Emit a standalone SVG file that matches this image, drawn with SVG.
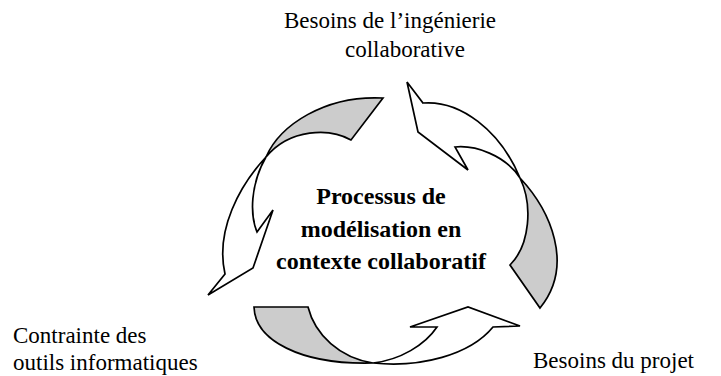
<svg xmlns="http://www.w3.org/2000/svg" width="721" height="376" viewBox="0 0 721 376">
<style>
.t{font-family:"Liberation Serif","Times New Roman",serif;font-size:23px;fill:#000}
.b{font-family:"Liberation Serif","Times New Roman",serif;font-size:24px;font-weight:bold;fill:#000}
.w{fill:#fff;stroke:#000;stroke-width:1.7;stroke-linejoin:miter}
.g{fill:#cccccc;stroke:#000;stroke-width:1.7;stroke-linejoin:miter}
</style>
<rect width="721" height="376" fill="#fff"/>
<g id="connectors">
<g id="arrow-left">
<path class="g" d="M266,157 C280,125 325,95 383,98 L351,140 C330,128 290,128 266,157 Z"/>
<path class="w" d="M266,157 C240,185 215,230 225,274 L208,295 L253,268 L273,210 L257,232 C250,215 250,185 266,157 Z"/>
</g>
<g id="arrow-right">
<path class="g" d="M520,178 C550,210 575,265 540,308 L510,265 C530,245 533,205 520,178 Z"/>
<path class="w" d="M520,178 C500,130 460,100 423,103 L407,82 L418,132 L468,170 L455,147 C475,145 505,155 520,178 Z"/>
</g>
<g id="arrow-bottom">
<path class="g" d="M373,363 C300,365 255,340 254,307 L308,307 C315,335 340,358 373,363 Z"/>
<path class="w" d="M373,363 C420,368 470,355 493,327 L520,326 L468,307 L410,327 L437,327 C425,345 400,360 373,363 Z"/>
</g>
</g>
<g id="node-center">
<text class="b" x="381" y="204" text-anchor="middle">Processus de</text>
<text class="b" x="381" y="237" text-anchor="middle">modélisation en</text>
<text class="b" x="381" y="269" text-anchor="middle">contexte collaboratif</text>
</g>
<g id="node-ingenierie">
<text class="t" x="390" y="28" text-anchor="middle">Besoins de l’ingénierie</text>
<text class="t" x="405" y="57" text-anchor="middle">collaborative</text>
</g>
<g id="node-outils">
<text class="t" x="13" y="343">Contrainte des</text>
<text class="t" x="13" y="370">outils informatiques</text>
</g>
<g id="node-projet">
<text class="t" x="533" y="368">Besoins du projet</text>
</g>
</svg>
